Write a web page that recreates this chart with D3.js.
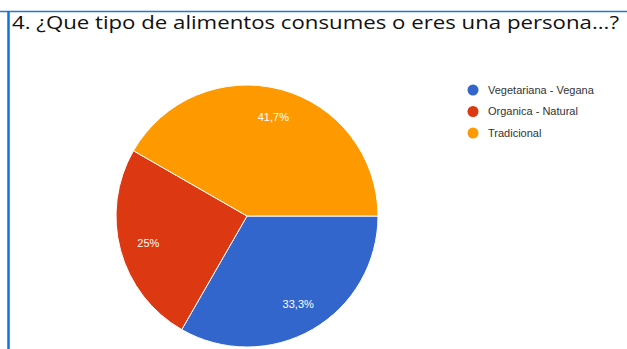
<!DOCTYPE html>
<html>
<head>
<meta charset="utf-8">
<script src="https://cdn.jsdelivr.net/npm/d3@7"></script>
<style>
  html, body { margin: 0; padding: 0; background: #fff; }
  svg { display: block; }
</style>
</head>
<body>
<svg id="chart" width="627" height="349"></svg>
<script>
// Survey answers: share of respondents per diet type
const categories = ["Vegetariana - Vegana", "Organica - Natural", "Tradicional"];
const values = [33.3, 25, 41.7];
const valueLabels = ["33,3%", "25%", "41,7%"];
const colors = ["#3366cc", "#dc3912", "#ff9900"];
const title = "4. ¿Que tipo de alimentos consumes o eres una persona...?";

const svg = d3.select("#chart");
const W = 627, H = 349;

// Frame: blue rule on the left and top
svg.append("line").attr("x1", 0).attr("x2", W).attr("y1", 11.5).attr("y2", 11.5)
  .attr("stroke", "#1f7ad6").attr("stroke-width", 1.5);
svg.append("line").attr("x1", 8.5).attr("x2", 8.5).attr("y1", 11).attr("y2", H)
  .attr("stroke", "#0a74d8").attr("stroke-width", 2.5);

svg.append("text")
  .attr("x", 12).attr("y", 29)
  .attr("font-family", "'Open Sans', 'Noto Sans', sans-serif")
  .attr("font-size", 18)
  .attr("fill", "#111")
  .attr("textLength", 607)
  .attr("lengthAdjust", "spacingAndGlyphs")
  .text(title);

// Pie
const cx = 247, cy = 216, R = 131;
const color = d3.scaleOrdinal().domain(categories).range(colors);
const pie = d3.pie().sort(null)
  .startAngle(Math.PI / 2).endAngle(Math.PI / 2 + 2 * Math.PI)
  .value(d => d.value);
const data = categories.map((c, i) => ({ name: c, value: values[i], label: valueLabels[i] }));
const arcs = pie(data);
const arc = d3.arc().innerRadius(0).outerRadius(R);
const labelArc = d3.arc().innerRadius(R * 0.78).outerRadius(R * 0.78);

const g = svg.append("g").attr("transform", `translate(${cx},${cy})`);
g.selectAll("path").data(arcs).join("path")
  .attr("d", arc)
  .attr("fill", d => color(d.data.name))
  .attr("stroke", "#fff").attr("stroke-width", 1);

g.selectAll("text").data(arcs).join("text")
  .attr("transform", d => `translate(${labelArc.centroid(d)})`)
  .attr("text-anchor", "middle")
  .attr("dy", "0.35em")
  .attr("font-family", "Arial, 'Liberation Sans', sans-serif")
  .attr("font-size", 11)
  .attr("fill", "#fff")
  .text(d => d.data.label);

// Legend
const legend = svg.append("g").attr("transform", "translate(473,90)");
const rows = legend.selectAll("g").data(categories).join("g")
  .attr("transform", (d, i) => `translate(0,${i * 21.5})`);
rows.append("circle").attr("r", 5.5).attr("fill", d => color(d));
rows.append("text")
  .attr("x", 15).attr("dy", "0.35em")
  .attr("font-family", "Arial, 'Liberation Sans', sans-serif")
  .attr("font-size", 11)
  .attr("fill", "#333")
  .text(d => d);
</script>
</body>
</html>
